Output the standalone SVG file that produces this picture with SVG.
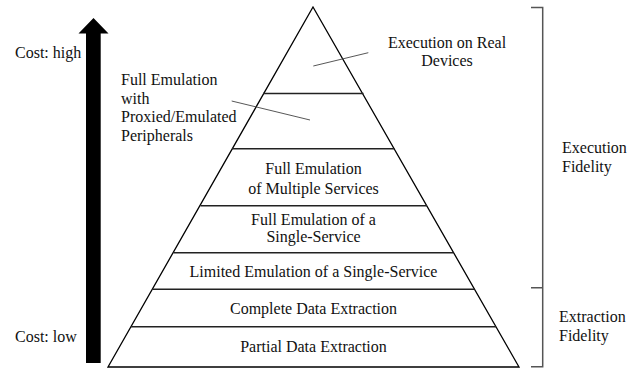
<svg xmlns="http://www.w3.org/2000/svg" width="643" height="369" viewBox="0 0 643 369">
<style>
text{font-family:"Liberation Serif","Times New Roman",serif;font-size:16px;fill:#111}
.c{text-anchor:middle}
.edge{stroke:#000;stroke-width:1.3;fill:none}
.tier{stroke:#222;stroke-width:1.6;fill:none}
.lead{stroke:#444;stroke-width:0.9;fill:none}
.br{stroke:#555;stroke-width:1.5;fill:none}
</style>
<rect width="643" height="369" fill="#fff"/>
<g id="cost-arrow">
<polygon points="93.5,18 108.5,33.5 100.7,33.5 100.7,363 86,363 86,33.5 78.5,33.5" fill="#000"/>
<text x="15" y="58">Cost: high</text>
<text x="15" y="342">Cost: low</text>
</g>
<g id="pyramid">
<path class="edge" d="M108,367 L313,7 L519,367 Z"/>
</g>
<g id="connectors">
<line class="tier" x1="263" y1="93.5" x2="363.5" y2="93.5"/>
<line class="tier" x1="232" y1="148.7" x2="394.5" y2="148.7"/>
<line class="tier" x1="200.5" y1="205.7" x2="427" y2="205.7"/>
<line class="tier" x1="173.5" y1="252.7" x2="453.5" y2="252.7"/>
<line class="tier" x1="152.5" y1="289.3" x2="474.5" y2="289.3"/>
<line class="tier" x1="131" y1="326.7" x2="496" y2="326.7"/>
<line class="lead" x1="313.3" y1="66" x2="368.3" y2="52.7"/>
<line class="lead" x1="231.7" y1="101" x2="310" y2="120"/>
<path class="br" d="M531,7.5 L542.7,7.5 L542.7,287.7 M531,287.7 L542.7,287.7 L542.7,366.8 L531,366.8"/>
</g>
<g id="tier-real">
<text class="c" x="447" y="48">Execution on Real</text>
<text class="c" x="447" y="66">Devices</text>
</g>
<g id="tier-proxied">
<text x="121" y="85">Full Emulation</text>
<text x="121" y="103.5">with</text>
<text x="121" y="122">Proxied/Emulated</text>
<text x="121" y="140.5">Peripherals</text>
</g>
<g id="tier-multiple">
<text class="c" x="313.5" y="173.5">Full Emulation</text>
<text class="c" x="313.5" y="193.5">of Multiple Services</text>
</g>
<g id="tier-single">
<text class="c" x="313.5" y="225">Full Emulation of a</text>
<text class="c" x="313.5" y="242">Single-Service</text>
</g>
<g id="tier-limited">
<text class="c" x="313.5" y="277">Limited Emulation of a Single-Service</text>
</g>
<g id="tier-complete">
<text class="c" x="313.5" y="313.5">Complete Data Extraction</text>
</g>
<g id="tier-partial">
<text class="c" x="313.5" y="352">Partial Data Extraction</text>
</g>
<g id="execution-fidelity">
<text x="562" y="153">Execution</text>
<text x="562" y="172">Fidelity</text>
</g>
<g id="extraction-fidelity">
<text x="559" y="322">Extraction</text>
<text x="559" y="341">Fidelity</text>
</g>
</svg>
